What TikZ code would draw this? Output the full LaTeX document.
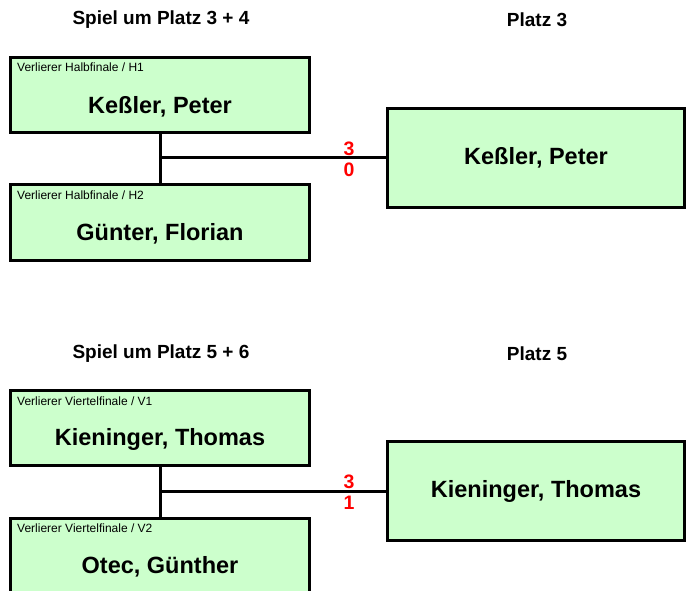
\documentclass[tikz,border=0pt]{standalone}
\usepackage{fontspec}
\setmainfont{Liberation Sans}
\usetikzlibrary{positioning, calc}
\definecolor{boxgreen}{RGB}{204,255,204}

\begin{document}
\begin{tikzpicture}[x=1pt, y=-1pt]
        \tikzset{player/.style={rectangle, draw, line width=3pt, fill=boxgreen, minimum width=299pt, minimum height=75pt, inner sep=0pt},
                 winner/.style={player, minimum width=297pt, minimum height=99pt},
                 pname/.style={font=\bfseries\fontsize{23.5}{26}\selectfont, inner sep=0pt},
                 roundtag/.style={font=\fontsize{12}{14}\selectfont, anchor=base west, inner sep=0pt},
                 heading/.style={font=\bfseries\fontsize{19}{21}\selectfont},
                 score/.style={text=red, font=\bfseries\fontsize{19.5}{21}\selectfont, inner sep=0pt},
                 link/.style={line width=3pt}}
        \useasboundingbox (0,0) rectangle (686,591);

        % Spiel um Platz 3 + 4
        \node[heading] (t34) at (161,20) {Spiel um Platz 3 + 4};
        \node[heading] (t3) at (537,20) {Platz 3};

        \node[player] (h1) at (160,95) {};
        \node[roundtag] at ([shift={(8,16)}]h1.north west) {Verlierer Halbfinale / H1};
        \node[pname] at ([yshift=-11.5pt]h1.center) {Keßler, Peter};
        \node[player] (h2) at (160,222.5) {};
        \node[roundtag] at ([shift={(8,16)}]h2.north west) {Verlierer Halbfinale / H2};
        \node[pname] at ([yshift=-11.5pt]h2.center) {Günter, Florian};

        \node[winner] (p3) at (536,158) {};
        \node[pname] at (p3.center) {Keßler, Peter};

        \coordinate (j1) at (h1.south |- p3.west);
        \draw[link] (h1) -- (h2);
        \draw[link] (j1) -- (p3);
        \node[score] (s31) at ([shift={(-37,-9)}]p3.west) {3};
        \node[score] (s32) at ([shift={(-37,12)}]p3.west) {0};

        % Spiel um Platz 5 + 6
        \node[heading] (t56) at (161,354) {Spiel um Platz 5 + 6};
        \node[heading] (t5) at (537,354) {Platz 5};

        \node[player] (v1) at (160,428) {};
        \node[roundtag] at ([shift={(8,16)}]v1.north west) {Verlierer Viertelfinale / V1};
        \node[pname] at ([yshift=-11.5pt]v1.center) {Kieninger, Thomas};
        \node[player] (v2) at (160,555.5) {};
        \node[roundtag] at ([shift={(8,16)}]v2.north west) {Verlierer Viertelfinale / V2};
        \node[pname] at ([yshift=-11.5pt]v2.center) {Otec, Günther};

        \node[winner] (p5) at (536,491) {};
        \node[pname] at (p5.center) {Kieninger, Thomas};

        \coordinate (j2) at (v1.south |- p5.west);
        \draw[link] (v1) -- (v2);
        \draw[link] (j2) -- (p5);
        \node[score] (s51) at ([shift={(-37,-9)}]p5.west) {3};
        \node[score] (s52) at ([shift={(-37,12)}]p5.west) {1};
\end{tikzpicture}
\end{document}
